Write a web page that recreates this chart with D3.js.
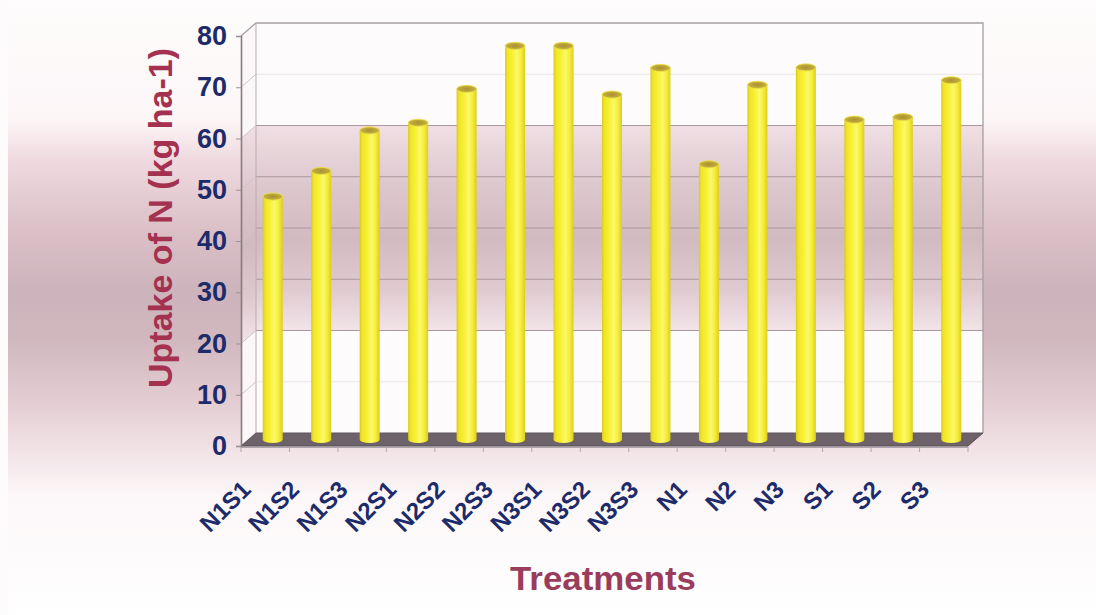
<!DOCTYPE html>
<html>
<head>
<meta charset="utf-8">
<script src="https://cdn.jsdelivr.net/npm/d3@7"></script>
<style>
  html, body { margin: 0; padding: 0; background: #ffffff; }
  svg { display: block; }
</style>
</head>
<body>
<svg id="chart" width="1096" height="615"></svg>
<script>
// Nitrogen uptake by treatment
const treatments = ["N1S1","N1S2","N1S3","N2S1","N2S2","N2S3","N3S1","N3S2","N3S3","N1","N2","N3","S1","S2","S3"];
const uptakeN = [47.4, 52.4, 60.3, 61.8, 68.4, 76.8, 76.8, 67.3, 72.5, 53.7, 69.2, 72.6, 62.4, 62.9, 70.1];
const yTicks = [0, 10, 20, 30, 40, 50, 60, 70, 80];
const yTitle = "Uptake of N (kg ha-1)";
const xTitle = "Treatments";

const svg = d3.select("#chart");
const W = 1096, H = 615;

// 3-D box geometry: front plane and depth offset
const front = { left: 241, right: 968, bottom: 446, top: 36 };
const depth = { dx: 15, dy: -13 };

const x = d3.scaleBand().domain(treatments).range([front.left, front.right]).paddingInner(0).paddingOuter(0);
const yFront = d3.scaleLinear().domain([0, 80]).range([front.bottom, front.top]);
const yBack = v => yFront(v) + depth.dy;
const yMid = v => yFront(v) + depth.dy / 2;

const defs = svg.append("defs");

// page background: soft mauve band across the middle
const bg = defs.append("linearGradient").attr("id", "bgGrad")
  .attr("gradientUnits", "userSpaceOnUse").attr("x1", 0).attr("y1", 0).attr("x2", 0).attr("y2", H);
[[0, "#fefcfc"], [120, "#fcf6f7"], [160, "#efd9df"], [230, "#dbc0c8"], [290, "#cdb3bb"], [340, "#d1b8bf"], [400, "#e2ccd2"], [450, "#f1e2e6"], [495, "#fcf7f8"], [615, "#ffffff"]]
  .forEach(([o, c]) => bg.append("stop").attr("offset", o / H).attr("stop-color", c));

// wall band between 20 and 60
const wb = defs.append("linearGradient").attr("id", "wallGrad")
  .attr("x1", 0).attr("y1", 0).attr("x2", 0).attr("y2", 1);
[[0, "#f0dfe4"], [0.3, "#dcc7cd"], [0.55, "#d1bbc1"], [0.8, "#dfcad0"], [1, "#f2e4e8"]]
  .forEach(([o, c]) => wb.append("stop").attr("offset", o).attr("stop-color", c));

// cylinder shading
const cg = defs.append("linearGradient").attr("id", "cylGrad")
  .attr("x1", 0).attr("y1", 0).attr("x2", 1).attr("y2", 0);
[[0, "#dcc81e"], [0.12, "#f0e42a"], [0.35, "#f7f032"], [0.6, "#fcf86a"], [0.8, "#f5ed38"], [1, "#ddcc20"]]
  .forEach(([o, c]) => cg.append("stop").attr("offset", o).attr("stop-color", c));

const tg = defs.append("radialGradient").attr("id", "topGrad")
  .attr("cx", 0.5).attr("cy", 0.5).attr("r", 0.6);
[[0, "#a89034"], [0.7, "#c4ae3a"], [1, "#e8dc50"]]
  .forEach(([o, c]) => tg.append("stop").attr("offset", o).attr("stop-color", c));

svg.append("rect").attr("width", W).attr("height", H).attr("fill", "url(#bgGrad)");
svg.append("rect").attr("width", 8).attr("height", H).attr("fill", "#fdfbfb");

// back wall
const backL = front.left + depth.dx, backR = front.right + depth.dx;
svg.append("rect").attr("x", backL).attr("y", yBack(80)).attr("width", backR - backL)
  .attr("height", yBack(0) - yBack(80)).attr("fill", "#fdfbfc");
svg.append("rect").attr("x", backL).attr("y", yBack(60)).attr("width", backR - backL)
  .attr("height", yBack(20) - yBack(60)).attr("fill", "url(#wallGrad)");

// side wall
svg.append("path")
  .attr("d", `M${front.left},${yFront(80)} L${backL},${yBack(80)} L${backL},${yBack(0)} L${front.left},${yFront(0)} Z`)
  .attr("fill", "#fbf6f7");
svg.append("path")
  .attr("d", `M${front.left},${yFront(60)} L${backL},${yBack(60)} L${backL},${yBack(20)} L${front.left},${yFront(20)} Z`)
  .attr("fill", "url(#wallGrad)");

// gridlines on back and side walls
const gridVals = yTicks.filter(v => v > 0 && v < 80);
svg.append("g").selectAll("line.back").data(gridVals).join("line")
  .attr("x1", backL).attr("x2", backR).attr("y1", d => yBack(d)).attr("y2", d => yBack(d))
  .attr("stroke", d => (d >= 20 && d <= 60) ? "#ab989f" : "#ebe4e6").attr("stroke-width", 1.2);
svg.append("g").selectAll("line.side").data(gridVals).join("line")
  .attr("x1", front.left).attr("x2", backL).attr("y1", d => yFront(d)).attr("y2", d => yBack(d))
  .attr("stroke", "#d3c6ca").attr("stroke-width", 1);

// wall borders
svg.append("path")
  .attr("d", `M${front.left},${yFront(80)} L${backL},${yBack(80)} L${backR},${yBack(80)} L${backR},${yBack(0)}`)
  .attr("fill", "none").attr("stroke", "#a79ea3").attr("stroke-width", 1.3);
svg.append("line").attr("x1", backL).attr("x2", backL).attr("y1", yBack(80)).attr("y2", yBack(0))
  .attr("stroke", "#b7aeb3").attr("stroke-width", 1);

// floor
svg.append("path")
  .attr("d", `M${front.left},${yFront(0)} L${backL},${yBack(0)} L${backR},${yBack(0)} L${front.right},${yFront(0)} Z`)
  .attr("fill", "#6d6269").attr("stroke", "#5f555c").attr("stroke-width", 1);
svg.append("line").attr("x1", front.left).attr("x2", front.right).attr("y1", yFront(0) + 1).attr("y2", yFront(0) + 1)
  .attr("stroke", "#9a9297").attr("stroke-width", 1.5);

// category ticks along the front floor edge
const bounds = treatments.map(t => x(t)).concat([front.right]);
svg.append("g").selectAll("line").data(bounds).join("line")
  .attr("x1", d => d).attr("x2", d => d).attr("y1", yFront(0) + 1).attr("y2", yFront(0) + 6)
  .attr("stroke", "#b0a8ac").attr("stroke-width", 1);

// value axis
const yAxis = d3.axisLeft(yFront).tickValues(yTicks).tickSize(5).tickPadding(9);
const ga = svg.append("g").attr("transform", `translate(${front.left},0)`).call(yAxis);
ga.select(".domain").attr("stroke", "#857b81").attr("stroke-width", 1.6);
ga.selectAll(".tick line").attr("stroke", "#9b9297");
ga.selectAll(".tick text")
  .attr("font-family", "'Liberation Sans', Arial, sans-serif").attr("font-weight", "bold")
  .attr("font-size", 27).attr("fill", "#1d2b6b");

// cylinders
const r = 10, ry = 3.6;
const bars = svg.append("g").selectAll("g").data(treatments.map((t, i) => ({ t, v: uptakeN[i] }))).join("g");
bars.append("path")
  .attr("d", d => {
    const cx = x(d.t) + x.bandwidth() / 2 + depth.dx / 2;
    const yt = yMid(d.v), yb = yMid(0);
    return `M${cx - r},${yt} L${cx - r},${yb} A${r},${ry} 0 0 0 ${cx + r},${yb} L${cx + r},${yt} Z`;
  })
  .attr("fill", "url(#cylGrad)");
bars.append("ellipse")
  .attr("cx", d => x(d.t) + x.bandwidth() / 2 + depth.dx / 2)
  .attr("cy", d => yMid(d.v))
  .attr("rx", r).attr("ry", ry)
  .attr("fill", "url(#topGrad)").attr("stroke", "#eee045").attr("stroke-width", 0.8);

// category labels
svg.append("g").selectAll("text").data(treatments).join("text")
  .attr("transform", d => `translate(${x(d) + x.bandwidth() / 2 - 13},${yFront(0) + 45}) rotate(-45)`)
  .attr("text-anchor", "end")
  .attr("font-family", "'Liberation Sans', Arial, sans-serif").attr("font-weight", "bold")
  .attr("font-size", 24).attr("fill", "#1d2b6b")
  .text(d => d);

// axis titles
svg.append("text")
  .attr("transform", `translate(172,218) rotate(-90)`)
  .attr("text-anchor", "middle")
  .attr("font-family", "'Liberation Sans', Arial, sans-serif").attr("font-weight", "bold")
  .attr("font-size", 34).attr("fill", "#a3314f")
  .text(yTitle);

svg.append("text")
  .attr("x", 603).attr("y", 590)
  .attr("text-anchor", "middle")
  .attr("font-family", "'Liberation Sans', Arial, sans-serif").attr("font-weight", "bold")
  .attr("font-size", 33).attr("fill", "#9a3d5d")
  .attr("textLength", 186).attr("lengthAdjust", "spacingAndGlyphs")
  .text(xTitle);
</script>
</body>
</html>
